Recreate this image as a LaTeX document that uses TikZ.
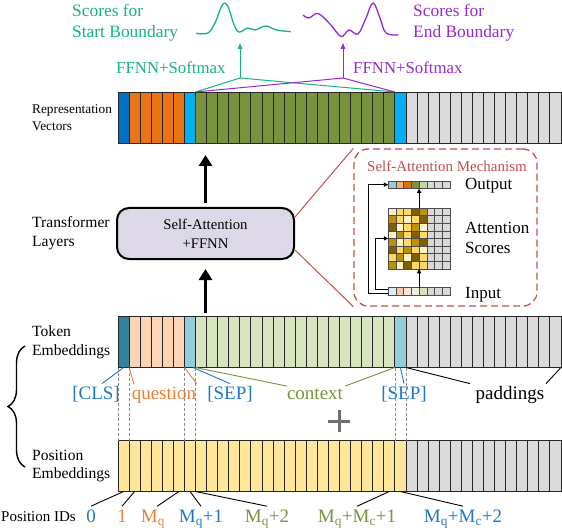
\documentclass[tikz,border=0pt]{standalone}
\usepackage{fontspec}
\setmainfont{Liberation Serif}
\usetikzlibrary{arrows.meta,decorations.pathreplacing}
\definecolor{rblue}{HTML}{0070C0}
\definecolor{rorange}{HTML}{E97516}
\definecolor{rsky}{HTML}{00B0F0}
\definecolor{rolive}{HTML}{77933C}
\definecolor{rgray}{HTML}{DADADA}
\definecolor{tteal}{HTML}{31849B}
\definecolor{tpeach}{HTML}{FBD5B5}
\definecolor{tsky}{HTML}{92CDDC}
\definecolor{tgreen}{HTML}{D7E4BD}
\definecolor{pyellow}{HTML}{FFE699}
\definecolor{lblue}{HTML}{1F78C4}
\definecolor{lorange}{HTML}{ED7D31}
\definecolor{lgreen}{HTML}{77933C}
\definecolor{scgreen}{RGB}{20,180,125}
\definecolor{scpurple}{RGB}{150,40,210}
\definecolor{sared}{RGB}{192,80,77}
\definecolor{boxfill}{RGB}{221,216,231}
\definecolor{plusgray}{HTML}{707070}
\definecolor{mP}{HTML}{FFF2CC}
\definecolor{mY}{HTML}{FFD966}
\definecolor{mG}{HTML}{BF9000}
\definecolor{mB}{HTML}{7F6000}
\definecolor{mgray}{HTML}{D9D9D9}
\definecolor{oA}{HTML}{F4B183}
\definecolor{oB}{HTML}{E46C0A}
\definecolor{oC}{HTML}{C3D69B}
\definecolor{iA}{HTML}{DAEEF3}
\definecolor{iB}{HTML}{F8CBAD}
\definecolor{iC}{HTML}{FCE4D6}
\definecolor{iD}{HTML}{EBF1DE}
\newcommand\fsz[2]{\fontsize{#1bp}{#2bp}\selectfont}
\begin{document}
\begin{tikzpicture}[x=1bp,y=-1bp,
  cell/.style={draw=black!85, line width=0.9bp, minimum width=11.075bp, minimum height=51bp, inner sep=0pt, outer sep=0pt},
  mcell/.style={draw=black!70, line width=0.5bp, minimum width=7.7bp, minimum height=7.6bp, inner sep=0pt, outer sep=0pt},
  bigarrow/.style={line width=3bp, -{Triangle[length=11bp,width=13bp]}},
  marrow/.style={line width=1.1bp, -{Triangle[length=4.5bp,width=4.2bp]}},
  sidelabel/.style={anchor=west, align=left, inner sep=0pt},
  toklabel/.style={anchor=base, inner sep=2bp, font=\fsz{19}{23}},
  idlabel/.style={anchor=base, inner sep=3bp, font=\fsz{19}{23}},
  minilabel/.style={anchor=base west, inner sep=0pt, font=\fsz{17}{20}},
  dashgray/.style={draw=black!45, line width=0.6bp, dash pattern=on 3bp off 2bp}
]
\useasboundingbox (0,0) rectangle (562,530);

% ---------- bars ----------
\foreach \a/\b/\c in {0/0/rblue,1/5/rorange,6/6/rsky,7/24/rolive,25/25/rsky,26/39/rgray}
  \foreach \i in {\a,...,\b}
    \node[cell,fill=\c] (r\i) at ({118+(\i+0.5)*11.075},117.5) {};
\foreach \a/\b/\c in {0/0/tteal,1/5/tpeach,6/6/tsky,7/24/tgreen,25/25/tsky,26/39/rgray}
  \foreach \i in {\a,...,\b}
    \node[cell,fill=\c] (t\i) at ({118+(\i+0.5)*11.075},342) {};
\foreach \a/\b/\c in {0/25/pyellow,26/39/rgray}
  \foreach \i in {\a,...,\b}
    \node[cell,fill=\c] (p\i) at ({118+(\i+0.5)*11.075},466) {};

% ---------- side labels ----------
\node[sidelabel, font=\fsz{13.3}{17}] (lrep) at (32,118) {Representation\\Vectors};
\node[sidelabel, font=\fsz{15.6}{19}] (ltf) at (32,233.5) {Transformer\\Layers};
\node[sidelabel, font=\fsz{15.6}{19}] (ltok) at (32,342) {Token\\Embeddings};
\node[sidelabel, font=\fsz{15.6}{18}] (lpos) at (32,466) {Position\\Embeddings};
\node[anchor=base west, inner sep=0pt, font=\fsz{15}{18}] (lpid) at (1,521) {Position IDs};

% ---------- transformer box and arrows ----------
\node[draw, line width=2bp, rounded corners=12bp, fill=boxfill, minimum width=177bp, minimum height=51bp, align=center, font=\fsz{14.7}{19}] (tf) at (205.5,233.5) {Self-Attention\\+FFNN};
\coordinate (up1) at (205.5,155);
\coordinate (low1) at (205.5,313);
\draw[bigarrow] ([yshift=4bp]tf.north) -- (up1);
\draw[bigarrow] (low1) -- ([yshift=-9bp]tf.south);

% ---------- self-attention mechanism ----------
\node[draw=sared, line width=1.3bp, dash pattern=on 7bp off 4bp, rounded corners=14bp, minimum width=183bp, minimum height=157bp, inner sep=0pt] (sabox) at (445.5,227.5) {};
\draw[sared, line width=1bp] ([yshift=-10bp]tf.north east) -- (sabox.north west);
\draw[sared, line width=1bp] ([yshift=10bp]tf.south east) -- (sabox.south west);
\node[anchor=base, inner sep=0pt, text=sared, font=\fsz{15}{18}] (satitle) at (447,172) {Self-Attention Mechanism};

\foreach \c/\col in {0/tsky,1/oA,2/oB,3/rolive,4/oC,5/mgray,6/mgray,7/mgray}
  \node[mcell, fill=\col] (o\c) at ({388.3+(\c+0.5)*7.7},184.7) {};
\foreach \c/\col in {0/iA,1/iB,2/iC,3/iD,4/tgreen,5/mgray,6/mgray,7/mgray}
  \node[mcell, fill=\col] (in\c) at ({388.3+(\c+0.5)*7.7},291.5) {};
\foreach \r/\ca/\cb/\cc/\cd/\ce in {0/mP/mY/mY/mB/mG, 1/mG/mY/mP/mY/mB, 2/mB/mP/mY/mG/mP, 3/mP/mG/mY/mB/mY, 4/mG/mP/mY/mG/mB, 5/mB/mY/mG/mY/mP, 6/mY/mG/mP/mB/mY, 7/mG/mP/mB/mY/mY}
  \foreach \c/\col in {0/\ca,1/\cb,2/\cc,3/\cd,4/\ce,5/mgray,6/mgray,7/mgray}
    \node[mcell, fill=\col] (m\r-\c) at ({388.3+(\c+0.5)*7.7},{208+(\r+0.5)*7.6}) {};

\draw[marrow] (in4.north west) -- (m7-4.south west);
\draw[marrow] (m0-4.north west) -- (o4.south west);
\draw[marrow] ([yshift=-1.6bp]in0.west) -- ++(-20,0) |- (o0.west);
\draw[marrow] ([yshift=1.8bp]in0.west) -- ++(-13,0) |- (m4-0.north west);

\node[minilabel] (tout) at (465,190) {Output};
\node[minilabel] (tatt) at (465,233) {Attention};
\node[minilabel] (tsco) at (465,253) {Scores};
\node[minilabel] (tin) at (465,298) {Input};

% ---------- top: scores ----------
\node[anchor=north west, align=left, inner sep=0pt, text=scgreen, font=\fsz{17.4}{21}] (sstart) at (72,4.5) {Scores for\\Start Boundary};
\node[anchor=north west, align=left, inner sep=0pt, text=scpurple, font=\fsz{17.4}{21}] (send) at (413,4.5) {Scores for\\End Boundary};
\draw[scgreen, line width=1.3bp] plot[smooth, tension=0.6] coordinates {(196,33.3) (208,33) (215.4,22) (222.6,4.5) (228,6.5) (233.4,23) (238.8,32) (247.8,28) (255,30) (265.7,26) (276.5,30) (290.8,31.7)};
\draw[scpurple, line width=1.3bp] plot[smooth, tension=0.6] coordinates {(303,15) (309,18) (318,13.5) (330,24) (341,36.5) (349,30) (358,34) (366,18) (373,3) (380,18) (386,33) (398.6,35)};
\coordinate (gapex) at (240,78);
\coordinate (gtop) at (240,43);
\coordinate (papex) at (343,78);
\coordinate (ptop) at (343,43);
\draw[scgreen, line width=1bp] (r7.north west) -- (gapex) -- (r25.north west);
\draw[scpurple, line width=1bp] (r7.north west) -- (papex) -- (r25.north west);
\draw[scgreen, line width=1bp, -{Triangle[length=6bp,width=4.5bp]}] (gapex) -- (gtop);
\draw[scpurple, line width=1bp, -{Triangle[length=6bp,width=4.5bp]}] (papex) -- (ptop);
\node[anchor=base west, inner sep=0pt, text=scgreen, font=\fsz{16.8}{20}] (ffg) at (116,74) {FFNN+Softmax};
\node[anchor=base west, inner sep=0pt, text=scpurple, font=\fsz{16.8}{20}] (ffp) at (353,74) {FFNN+Softmax};

% ---------- token labels ----------
\node[toklabel, text=lblue] (cls) at (96,399) {[CLS]};
\node[toklabel, text=lorange] (qst) at (164,399) {question};
\node[toklabel, text=lblue] (sep1) at (230,399) {[SEP]};
\node[toklabel, text=lgreen] (ctx) at (315,399) {context};
\node[toklabel, text=lblue] (sep2) at (404,399) {[SEP]};
\node[toklabel, text=black] (pad) at (510,399) {paddings};
\draw[lblue, line width=0.9bp] (t0.south) -- ([xshift=6bp]cls.north);
\draw[lorange, line width=0.9bp] (t1.south west) -- ([xshift=-30bp]qst.north);
\draw[lorange, line width=0.9bp] (t6.south west) -- ([xshift=33bp]qst.north);
\draw[lblue, line width=0.9bp] ([xshift=3bp]t6.south) -- (sep1.north);
\draw[lgreen, line width=0.9bp] (t7.south west) -- ([xshift=-28bp]ctx.north);
\draw[lgreen, line width=0.9bp] (t24.south east) -- ([xshift=30bp]ctx.north);
\draw[lblue, line width=0.9bp] (t25.south) -- (sep2.north);
\draw[black, line width=0.9bp] (t26.south west) -- ([xshift=-40bp]pad.north);
\draw[black, line width=0.9bp] (t39.south east) -- ([xshift=36bp]pad.north);

% dashed guides
\foreach \k in {0,1,6,7,25,26}
  \draw[dashgray] (t\k.south west) -- (p\k.north west);

% plus and brace
\draw[plusgray, line width=3bp] (328,421) -- (350,421) (339,410) -- (339,432);
\draw[decorate, decoration={brace, amplitude=17bp}, line width=1.4bp] (25,467) -- (25,346);

% ---------- position ids ----------
\node[idlabel, text=lblue] (id0) at (91,522) {0};
\node[idlabel, text=lorange] (id1) at (122,522) {1};
\node[idlabel, text=lorange] (id2) at (153,522) {M\textsubscript{q}};
\node[idlabel, text=lblue] (id3) at (201,522) {M\textsubscript{q}+1};
\node[idlabel, text=lgreen] (id4) at (267,522) {M\textsubscript{q}+2};
\node[idlabel, text=lgreen] (id5) at (357,522) {M\textsubscript{q}+M\textsubscript{c}+1};
\node[idlabel, text=lblue] (id6) at (463,522) {M\textsubscript{q}+M\textsubscript{c}+2};
\draw[black, line width=0.9bp] (p0.south) -- (id0.north);
\draw[black, line width=0.9bp] (p1.south) -- (id1.north);
\draw[black, line width=0.9bp] (p5.south) -- ([xshift=4bp]id2.north);
\draw[black, line width=0.9bp] (p6.south) -- (id3.north);
\draw[black, line width=0.9bp] (p7.south west) -- (id4.north);
\draw[black, line width=0.9bp] (p24.south) -- (id5.north);
\draw[black, line width=0.9bp] (p25.south) -- (id6.north);
\end{tikzpicture}
\end{document}
